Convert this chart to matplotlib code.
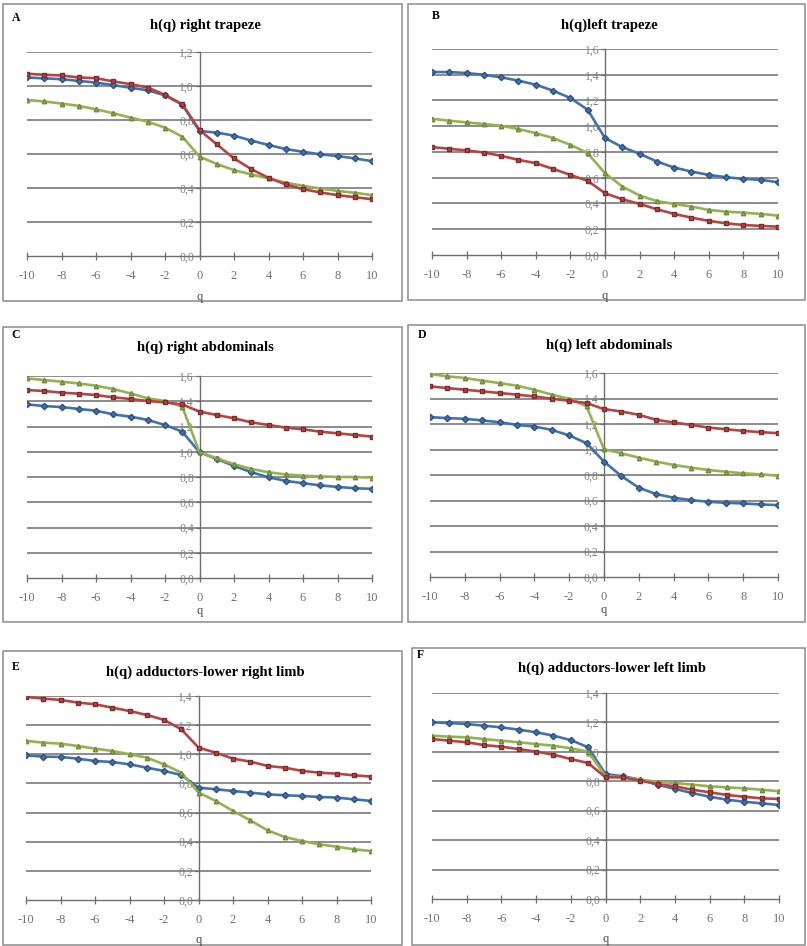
import matplotlib
matplotlib.use("Agg")
import matplotlib.pyplot as plt
from matplotlib.patches import Rectangle

W, H = 807, 946

q = list(range(-10, 11))

# Panel A - right trapeze
a_blue = [1.05, 1.045, 1.04, 1.03, 1.02, 1.005, 0.99, 0.975, 0.945, 0.89, 0.735,
          0.726, 0.708, 0.679, 0.653, 0.629, 0.613, 0.598, 0.588, 0.574, 0.558]
a_red = [1.072, 1.066, 1.062, 1.05, 1.046, 1.027, 1.011, 0.991, 0.948, 0.893, 0.741,
         0.657, 0.574, 0.511, 0.46, 0.421, 0.393, 0.374, 0.358, 0.346, 0.334]
a_green = [0.918, 0.909, 0.897, 0.883, 0.863, 0.84, 0.814, 0.79, 0.755, 0.702, 0.585,
           0.541, 0.505, 0.48, 0.456, 0.431, 0.413, 0.397, 0.383, 0.372, 0.358]

# Panel B - left trapeze
b_blue = [1.421, 1.421, 1.413, 1.40, 1.38, 1.354, 1.323, 1.276, 1.219, 1.128, 0.908,
          0.838, 0.786, 0.726, 0.679, 0.648, 0.622, 0.604, 0.591, 0.584, 0.565]
b_red = [0.838, 0.825, 0.812, 0.796, 0.77, 0.739, 0.713, 0.669, 0.622, 0.576, 0.48,
         0.433, 0.397, 0.355, 0.319, 0.29, 0.265, 0.246, 0.233, 0.226, 0.22]
b_green = [1.058, 1.043, 1.03, 1.017, 1.004, 0.978, 0.947, 0.908, 0.856, 0.791, 0.635,
           0.532, 0.462, 0.418, 0.397, 0.376, 0.35, 0.337, 0.329, 0.319, 0.306]

# Panel C - right abdominals
c_blue = [1.375, 1.362, 1.354, 1.339, 1.325, 1.296, 1.278, 1.252, 1.212, 1.159, 0.996,
          0.943, 0.888, 0.838, 0.798, 0.769, 0.751, 0.733, 0.722, 0.711, 0.706]
c_red = [1.489, 1.481, 1.468, 1.46, 1.449, 1.431, 1.418, 1.402, 1.391, 1.375, 1.318,
         1.291, 1.265, 1.233, 1.212, 1.191, 1.178, 1.159, 1.146, 1.133, 1.12]
c_green = [1.581, 1.568, 1.555, 1.541, 1.523, 1.497, 1.462, 1.423, 1.402, 1.357, 0.996,
           0.949, 0.901, 0.864, 0.838, 0.82, 0.81, 0.805, 0.80, 0.80, 0.795]

# Panel D - left abdominals
d_blue = [1.254, 1.246, 1.241, 1.228, 1.214, 1.193, 1.18, 1.154, 1.11, 1.049, 0.905,
          0.792, 0.70, 0.65, 0.622, 0.603, 0.59, 0.582, 0.577, 0.569, 0.564]
d_red = [1.495, 1.482, 1.469, 1.456, 1.443, 1.43, 1.416, 1.398, 1.382, 1.364, 1.317,
         1.298, 1.272, 1.233, 1.212, 1.193, 1.172, 1.159, 1.146, 1.136, 1.128]
d_green = [1.592, 1.574, 1.561, 1.54, 1.521, 1.50, 1.469, 1.43, 1.398, 1.338, 1.002,
           0.97, 0.936, 0.905, 0.879, 0.858, 0.839, 0.826, 0.813, 0.805, 0.795]

# Panel E - adductors, lower right limb
e_blue = [0.993, 0.984, 0.982, 0.97, 0.954, 0.947, 0.931, 0.908, 0.886, 0.858, 0.771,
          0.76, 0.748, 0.737, 0.725, 0.719, 0.714, 0.707, 0.703, 0.691, 0.68]
e_red = [1.394, 1.382, 1.373, 1.355, 1.343, 1.32, 1.297, 1.27, 1.236, 1.172, 1.046,
         1.011, 0.97, 0.95, 0.92, 0.908, 0.886, 0.874, 0.867, 0.856, 0.847]
e_green = [1.092, 1.08, 1.073, 1.057, 1.039, 1.023, 1.0, 0.977, 0.931, 0.874, 0.737,
           0.68, 0.611, 0.547, 0.478, 0.432, 0.405, 0.382, 0.366, 0.348, 0.336]

# Panel F - adductors, lower left limb
f_blue = [1.20, 1.196, 1.189, 1.178, 1.166, 1.151, 1.133, 1.11, 1.08, 1.031, 0.849,
          0.834, 0.811, 0.777, 0.748, 0.72, 0.695, 0.675, 0.661, 0.65, 0.639]
f_red = [1.087, 1.076, 1.065, 1.046, 1.035, 1.019, 1.001, 0.981, 0.951, 0.924, 0.827,
         0.827, 0.804, 0.781, 0.766, 0.743, 0.725, 0.707, 0.695, 0.684, 0.68]
f_green = [1.11, 1.103, 1.099, 1.087, 1.076, 1.065, 1.053, 1.042, 1.024, 1.001, 0.834,
           0.827, 0.811, 0.797, 0.788, 0.777, 0.766, 0.759, 0.752, 0.743, 0.732]

titles = ["h(q) right trapeze", "h(q)left trapeze", "h(q) right abdominals",
          "h(q) left abdominals", "h(q) adductors-lower right limb",
          "h(q) adductors-lower left limb"]
letters = ["A", "B", "C", "D", "E", "F"]
ymax = [1.2, 1.6, 1.6, 1.6, 1.4, 1.4]
series = [(a_blue, a_red, a_green), (b_blue, b_red, b_green),
          (c_blue, c_red, c_green), (d_blue, d_red, d_green),
          (e_blue, e_red, e_green), (f_blue, f_red, f_green)]

# layout in pixels: frame box, plot area, title / letter / q-label positions
boxes = [(3, 4, 402, 301), (408, 4, 805, 300),
         (3, 327, 402, 622), (408, 325, 805, 622),
         (3, 651, 402, 945), (412, 648, 805, 945)]
plots = [(27, 52, 372, 256), (432, 49, 778, 255),
         (27, 376, 372, 578), (430, 373, 778, 577),
         (26, 696, 371, 900), (432, 693, 779, 899)]
title_y = [25, 25, 347, 345, 672, 668]
letter_xy = [(16, 18), (436, 16), (16, 335), (422, 335), (16, 667), (420, 655)]
qlabel_y = [297, 296, 611, 610, 940, 939]

BLUE, RED, GREEN = "#4272AD", "#B44542", "#93B350"
GRID = "#6E6E6E"
SERIF = ["Liberation Serif", "DejaVu Serif"]

fig = plt.figure(figsize=(W / 100, H / 100), dpi=100)
fig.patch.set_facecolor("white")


def fx(x):
    return x / W


def fy(y):
    return 1 - y / H


for i in range(6):
    bx1, by1, bx2, by2 = boxes[i]
    fig.add_artist(Rectangle((fx(bx1), fy(by2)), (bx2 - bx1) / W, (by2 - by1) / H,
                             transform=fig.transFigure, fill=False,
                             edgecolor="#8C8C8C", linewidth=1.1))

    x1, y1, x2, y2 = plots[i]
    ax = fig.add_axes([fx(x1), fy(y2), (x2 - x1) / W, (y2 - y1) / H])
    ax.set_xlim(-10, 10)
    ax.set_ylim(0, ymax[i])
    ax.set_facecolor("none")

    n = int(round(ymax[i] / 0.2))
    yt = [round(0.2 * k, 1) for k in range(n + 1)]
    ax.set_yticks(yt)
    ax.set_yticklabels([f"{v:.1f}".replace(".", ",") for v in yt])
    ax.set_xticks(range(-10, 11, 2))
    ax.set_xticklabels([str(v) for v in range(-10, 11, 2)])
    for v in yt[1:]:
        ax.axhline(v, color=GRID, linewidth=1.1, zorder=1)

    ax.spines["left"].set_position(("data", 0))
    ax.spines["left"].set_color(GRID)
    ax.spines["bottom"].set_color(GRID)
    ax.spines["left"].set_linewidth(1.0)
    ax.spines["bottom"].set_linewidth(1.0)
    ax.spines["right"].set_visible(False)
    ax.spines["top"].set_visible(False)
    ax.tick_params(axis="x", direction="inout", length=6, width=0.9, color=GRID,
                   pad=7, labelsize=9, labelcolor="#707070")
    ax.tick_params(axis="y", direction="out", length=3, width=0.9, color=GRID,
                   pad=1, labelsize=8.5, labelcolor="#808080")
    for lab in ax.get_xticklabels() + ax.get_yticklabels():
        lab.set_family(SERIF)

    blue, red, green = series[i]
    ax.plot(q, blue, color=BLUE, linewidth=1.9, marker="D", markersize=3.2,
            markerfacecolor=BLUE, markeredgecolor="#2B5282", zorder=3)
    ax.plot(q, green, color=GREEN, linewidth=1.9, marker="^", markersize=3.2,
            markerfacecolor=GREEN, markeredgecolor="#6E8A3A", zorder=3)
    ax.plot(q, red, color=RED, linewidth=1.9, marker="s", markersize=3.4,
            markerfacecolor=RED, markeredgecolor="#7E2A2A", zorder=4)

    cx = (bx1 + bx2) / 2 + 3
    fig.text(fx(cx), fy(title_y[i]), titles[i], ha="center", va="center",
             fontsize=10.5, fontweight="bold", family=SERIF)
    lx, ly = letter_xy[i]
    fig.text(fx(lx), fy(ly), letters[i], ha="center", va="center",
             fontsize=8.5, fontweight="bold", family=SERIF)
    fig.text(fx((x1 + x2) / 2), fy(qlabel_y[i]), "q", ha="center", va="center",
             fontsize=9, color="#444444", family=SERIF)

fig.savefig("out.png", dpi=100, facecolor="white")
